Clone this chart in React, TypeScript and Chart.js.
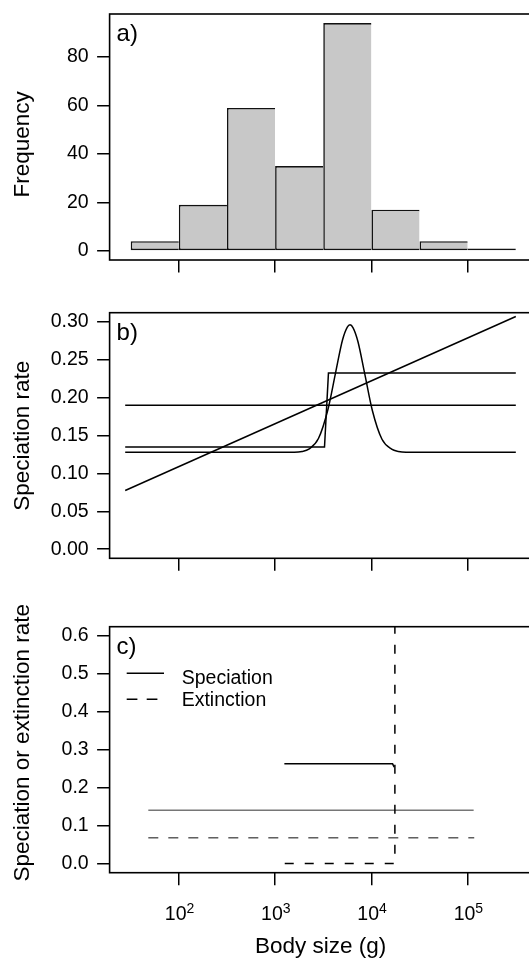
import React, { useEffect, useRef } from "react";
import { Chart, registerables } from "chart.js";

Chart.register(...registerables);

// ---------------- data ----------------
// x axis: log10 of body size (g)
const X_TICK_EXPONENTS = [2, 3, 4, 5];
const X_MIN_LOG = 1.281;
const X_MAX_LOG = 5.719;
const X_TITLE = "Body size (g)";

// panel a: histogram of log10 body size
const histBinCentersLog10 = [1.75, 2.25, 2.75, 3.25, 3.75, 4.25, 4.75, 5.25];
const histCounts = [4, 19, 59, 35, 94, 17, 4, 1];
const freqTicks = [0, 20, 40, 60, 80];

// panel b: speciation-rate models
const linearX = [1.443, 5.5];
const linearY = [0.0774, 0.307];
const constX = [1.443, 5.5];
const constY = [0.19, 0.19];
const stepX = [1.443, 3.513, 3.554, 5.5];
const stepY = [0.1347, 0.1347, 0.2323, 0.2323];
const humpX = [1.443, 3.2, 3.28, 3.35, 3.45, 3.55, 3.63, 3.7, 3.75, 3.778, 3.81, 3.86, 3.93, 4.01, 4.11, 4.21, 4.28, 4.36, 5.5];
const humpY = [0.128, 0.128, 0.129, 0.132, 0.146, 0.185, 0.234, 0.276, 0.293, 0.296, 0.292, 0.274, 0.232, 0.183, 0.145, 0.132, 0.129, 0.128, 0.128];
const specTicks = [0, 0.05, 0.1, 0.15, 0.2, 0.25, 0.3];

// panel c: rate-shift model
const shiftSpecX = [3.096, 4.22, 4.237];
const shiftSpecY = [0.2627, 0.2627, 0.254];
const shiftExtX = [3.1, 4.244, 4.244];
const shiftExtY = [0, 0, 1.0];
const bgSpecX = [1.683, 5.062];
const bgSpecY = [0.1404, 0.1404];
const bgExtX = [1.683, 5.068];
const bgExtY = [0.068, 0.068];
const rateTicks = [0, 0.1, 0.2, 0.3, 0.4, 0.5, 0.6];
const legendLabels = ["Speciation", "Extinction"];

// ---------------- layout / style ----------------
const FONT = '"Liberation Sans", Arial, Helvetica, sans-serif';
const CANVAS_W = 545;
const BOX_LEFT = 109.6;
const BOX_RIGHT = 536.9;
const TICK_LEN = 12.5;
const TICK_FONT = 19.5;
const TITLE_FONT = 22.5;
const LINE_W = 1.5;

type Panel = { top: number; height: number; boxTop: number; boxBottom: number };
const PANEL_A: Panel = { top: 0, height: 290, boxTop: 14, boxBottom: 260 };
const PANEL_B: Panel = { top: 290, height: 310, boxTop: 312.7, boxBottom: 558.3 };
const PANEL_C: Panel = { top: 600, height: 367, boxTop: 626.7, boxBottom: 872.7 };

const pts = (xs: number[], ys: number[]) => xs.map((x, i) => ({ x, y: ys[i] }));

function xScale(p: Panel) {
  const h = p.top + p.height - p.boxBottom;
  return {
    type: "linear",
    min: X_MIN_LOG,
    max: X_MAX_LOG,
    offset: false,
    afterBuildTicks: (s: any) => {
      s.ticks = X_TICK_EXPONENTS.map((v) => ({ value: v }));
    },
    afterFit: (s: any) => {
      s.height = h;
      s.paddingLeft = 0;
      s.paddingRight = 0;
    },
    grid: {
      display: true,
      drawOnChartArea: false,
      drawTicks: true,
      tickLength: TICK_LEN,
      color: "#000",
      lineWidth: 1.5,
      offset: false,
    },
    border: { display: false },
    ticks: { display: false },
  };
}

function yScale(min: number, max: number, ticks: number[], decimals: number) {
  return {
    type: "linear",
    min,
    max,
    afterBuildTicks: (s: any) => {
      s.ticks = ticks.map((v) => ({ value: v }));
    },
    afterFit: (s: any) => {
      s.width = BOX_LEFT;
      s.paddingTop = 0;
      s.paddingBottom = 0;
    },
    grid: {
      display: true,
      drawOnChartArea: false,
      drawTicks: true,
      tickLength: TICK_LEN,
      color: "#000",
      lineWidth: 1.5,
    },
    border: { display: false },
    ticks: {
      color: "#000",
      padding: 8.4,
      font: { family: FONT, size: TICK_FONT },
      callback: (v: any) => Number(v).toFixed(decimals),
    },
  };
}

type DecorOpts = {
  letter: string;
  yTitle: string;
  yTitleDy: number;
  xLabels?: boolean;
  legend?: boolean;
};

function decorPlugin(o: DecorOpts) {
  return {
    id: "decor",
    afterDraw(chart: any) {
      const { ctx, chartArea: a } = chart;
      ctx.save();
      // box
      ctx.strokeStyle = "#000";
      ctx.lineWidth = 1.6;
      ctx.setLineDash([]);
      ctx.strokeRect(a.left, a.top, a.right - a.left, a.bottom - a.top);
      ctx.fillStyle = "#000";
      // panel letter
      ctx.font = `24px ${FONT}`;
      ctx.textAlign = "left";
      ctx.textBaseline = "alphabetic";
      ctx.fillText(o.letter, a.left + 7, a.top + 27.3);
      // y title
      ctx.save();
      ctx.translate(29.3, (a.top + a.bottom) / 2 + o.yTitleDy);
      ctx.rotate(-Math.PI / 2);
      ctx.font = `${TITLE_FONT}px ${FONT}`;
      ctx.textAlign = "center";
      ctx.fillText(o.yTitle, 0, 0);
      ctx.restore();
      // x labels
      if (o.xLabels) {
        const xs = chart.scales.x;
        X_TICK_EXPONENTS.forEach((e) => {
          const px = xs.getPixelForValue(e);
          ctx.font = `${TICK_FONT}px ${FONT}`;
          const wb = ctx.measureText("10").width;
          ctx.font = `14px ${FONT}`;
          const ws = ctx.measureText(String(e)).width;
          const x0 = px + 0.7 - (wb + ws) / 2;
          ctx.textAlign = "left";
          ctx.font = `${TICK_FONT}px ${FONT}`;
          ctx.fillText("10", x0, a.bottom + 47.3);
          ctx.font = `14px ${FONT}`;
          ctx.fillText(String(e), x0 + wb, a.bottom + 40);
        });
        ctx.font = `${TITLE_FONT}px ${FONT}`;
        ctx.textAlign = "center";
        ctx.fillText(X_TITLE, (a.left + a.right) / 2 - 2.7, a.bottom + 80.3);
      }
      // legend
      if (o.legend) {
        ctx.strokeStyle = "#000";
        ctx.lineWidth = LINE_W;
        const lx0 = a.left + 17.1;
        const lx1 = a.left + 54.4;
        const ys = [a.top + 46.6, a.top + 72.6];
        ys.forEach((y, i) => {
          ctx.setLineDash(i === 0 ? [] : [10.7, 9.3]);
          ctx.beginPath();
          ctx.moveTo(lx0, y);
          ctx.lineTo(lx1, y);
          ctx.stroke();
        });
        ctx.setLineDash([]);
        ctx.font = `${TICK_FONT}px ${FONT}`;
        ctx.textAlign = "left";
        ctx.fillText(legendLabels[0], a.left + 72.1, a.top + 56.8);
        ctx.fillText(legendLabels[1], a.left + 72.1, a.top + 79.6);
      }
      ctx.restore();
    },
  };
}

function baseOptions(p: Panel, yMin: number, yMax: number, yTicks: number[], dec: number) {
  return {
    animation: false,
    responsive: false,
    devicePixelRatio: 1,
    events: [],
    layout: {
      padding: { left: 0, right: CANVAS_W - BOX_RIGHT, top: p.boxTop - p.top, bottom: 0 },
    },
    plugins: { legend: { display: false }, tooltip: { enabled: false }, title: { display: false } },
    scales: {
      x: xScale(p),
      y: yScale(yMin, yMax, yTicks, dec),
    },
  };
}

const lineDs = (data: any[], extra: any = {}) => ({
  type: "line",
  data,
  borderColor: "#000",
  borderWidth: LINE_W,
  pointRadius: 0,
  fill: false,
  tension: 0,
  ...extra,
});

function configA() {
  const n = histCounts.length;
  const bw = 1.6;
  return {
    type: "bar",
    data: {
      datasets: [
        {
          data: pts(histBinCentersLog10, histCounts),
          backgroundColor: "#c8c8c8",
          borderColor: "#111",
          borderWidth: (c: any) => ({
            top: bw,
            bottom: bw,
            left: bw,
            right: c.dataIndex === n - 1 ? bw : 0,
          }),
          borderSkipped: false,
          barPercentage: 1,
          categoryPercentage: 1,
          inflateAmount: 0,
        },
      ],
    },
    options: baseOptions(PANEL_A, -3.76, 97.76, freqTicks, 0),
    plugins: [decorPlugin({ letter: "a)", yTitle: "Frequency", yTitleDy: 7.3 })],
  };
}

function configB() {
  return {
    type: "line",
    data: {
      datasets: [
        lineDs(pts(linearX, linearY)),
        lineDs(pts(constX, constY)),
        lineDs(pts(stepX, stepY)),
        lineDs(pts(humpX, humpY), { cubicInterpolationMode: "monotone" }),
      ],
    },
    options: baseOptions(PANEL_B, -0.012, 0.312, specTicks, 2),
    plugins: [decorPlugin({ letter: "b)", yTitle: "Speciation rate", yTitleDy: 0.3 })],
  };
}

function configC() {
  return {
    type: "line",
    data: {
      datasets: [
        lineDs(pts(shiftSpecX, shiftSpecY)),
        lineDs(pts(shiftExtX, shiftExtY), { borderDash: [9, 11] }),
        lineDs(pts(bgSpecX, bgSpecY), { borderColor: "#767676", borderWidth: 1.6 }),
        lineDs(pts(bgExtX, bgExtY), { borderColor: "#5e5e5e", borderDash: [10, 10] }),
      ],
    },
    options: baseOptions(PANEL_C, -0.024, 0.624, rateTicks, 1),
    plugins: [
      decorPlugin({
        letter: "c)",
        yTitle: "Speciation or extinction rate",
        yTitleDy: -7,
        xLabels: true,
        legend: true,
      }),
    ],
  };
}

function PanelCanvas({ p, make }: { p: Panel; make: () => any }) {
  const ref = useRef<HTMLCanvasElement | null>(null);
  useEffect(() => {
    if (!ref.current) return;
    const chart = new Chart(ref.current, make());
    return () => chart.destroy();
  }, []);
  return (
    <canvas
      ref={ref}
      width={CANVAS_W}
      height={p.height}
      style={{ position: "absolute", left: 0, top: p.top, width: CANVAS_W, height: p.height }}
    />
  );
}

export default function App() {
  return (
    <div
      style={{
        position: "absolute",
        left: 0,
        top: 0,
        width: 529,
        height: 967,
        overflow: "hidden",
        background: "#fff",
      }}
    >
      <PanelCanvas p={PANEL_A} make={configA} />
      <PanelCanvas p={PANEL_B} make={configB} />
      <PanelCanvas p={PANEL_C} make={configC} />
    </div>
  );
}
